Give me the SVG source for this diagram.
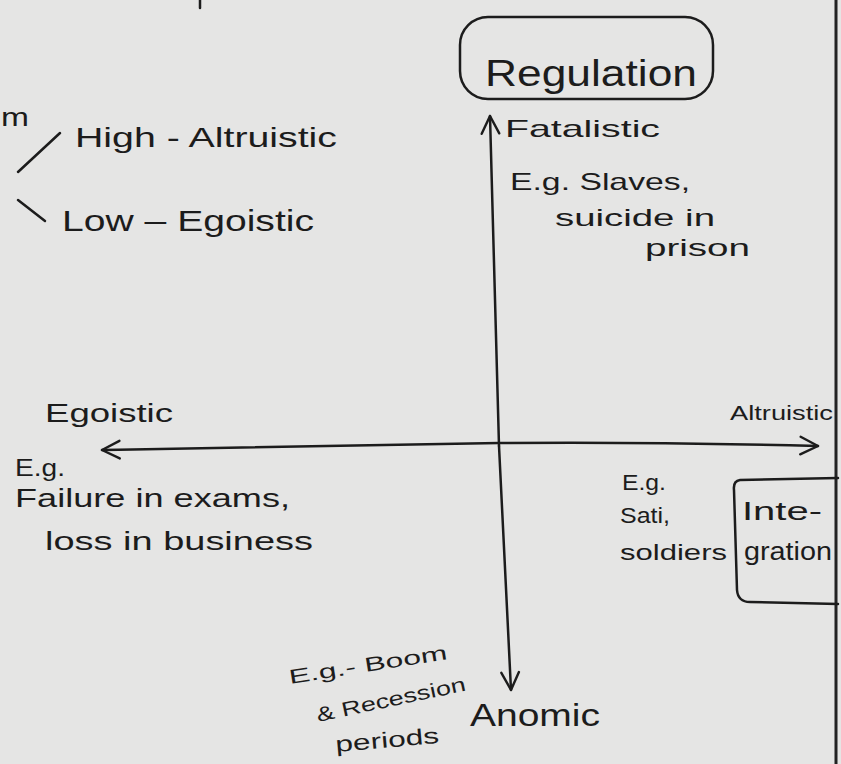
<svg xmlns="http://www.w3.org/2000/svg" width="841" height="764" viewBox="0 0 841 764">
<defs>
<style>
.t{font-family:"Liberation Sans","DejaVu Sans",sans-serif;fill:#1c1c1c}
.ln{stroke:#1c1c1c;stroke-width:2.5;fill:none;stroke-linecap:round;stroke-linejoin:round}
</style>
<marker id="ah" viewBox="0 0 20 20" refX="18" refY="10" markerWidth="22" markerHeight="22" markerUnits="userSpaceOnUse" orient="auto">
<path d="M2,2 L18,10 L2,18" fill="none" stroke="#1c1c1c" stroke-width="2.2" stroke-linecap="round" stroke-linejoin="round"/>
</marker>
</defs>
<rect width="841" height="764" fill="#e5e5e4"/>
<line x1="836" y1="0" x2="836" y2="764" stroke="#222" stroke-width="3"/>
<line x1="200" y1="0" x2="200" y2="8" class="ln"/>
<g id="connectors">
<path d="M499,446 L490,116" class="ln" marker-end="url(#ah)"/>
<path d="M499,446 L511,690" class="ln" marker-end="url(#ah)"/>
<path d="M499,443 C400,444 250,447 102,450" class="ln" marker-end="url(#ah)"/>
<path d="M499,443 C600,442 700,443 818,446" class="ln" marker-end="url(#ah)"/>
<path d="M18,172 L60,133" class="ln"/>
<path d="M18,200 L45,221" class="ln"/>
</g>
<g id="regulation">
<rect x="460" y="17" width="253" height="82" rx="28" class="ln"/>
<text x="485" y="86" class="t" font-size="36" textLength="212" lengthAdjust="spacingAndGlyphs">Regulation</text>
</g>
<g id="fatalistic">
<text x="505" y="137" class="t" font-size="24" textLength="155" lengthAdjust="spacingAndGlyphs">Fatalistic</text>
<text x="510" y="190" class="t" font-size="24" textLength="180" lengthAdjust="spacingAndGlyphs">E.g. Slaves,</text>
<text x="555" y="226" class="t" font-size="24" textLength="160" lengthAdjust="spacingAndGlyphs">suicide in</text>
<text x="645" y="256" class="t" font-size="24" textLength="105" lengthAdjust="spacingAndGlyphs">prison</text>
</g>
<g id="integration-levels">
<text x="1" y="126" class="t" font-size="26" textLength="28" lengthAdjust="spacingAndGlyphs">m</text>
<text x="75" y="147" class="t" font-size="28" textLength="262" lengthAdjust="spacingAndGlyphs">High - Altruistic</text>
<text x="62" y="231" class="t" font-size="30" textLength="252" lengthAdjust="spacingAndGlyphs">Low – Egoistic</text>
</g>
<g id="egoistic">
<text x="45" y="422" class="t" font-size="26" textLength="128" lengthAdjust="spacingAndGlyphs">Egoistic</text>
<text x="15" y="476" class="t" font-size="24" textLength="50" lengthAdjust="spacingAndGlyphs">E.g.</text>
<text x="15" y="507" class="t" font-size="26" textLength="275" lengthAdjust="spacingAndGlyphs">Failure in exams,</text>
<text x="45" y="550" class="t" font-size="26" textLength="268" lengthAdjust="spacingAndGlyphs">loss in business</text>
</g>
<g id="altruistic">
<text x="730" y="420" class="t" font-size="20" textLength="103" lengthAdjust="spacingAndGlyphs">Altruistic</text>
<text x="622" y="490" class="t" font-size="22" textLength="44" lengthAdjust="spacingAndGlyphs">E.g.</text>
<text x="620" y="523" class="t" font-size="22" textLength="50" lengthAdjust="spacingAndGlyphs">Sati,</text>
<text x="620" y="560" class="t" font-size="22" textLength="107" lengthAdjust="spacingAndGlyphs">soldiers</text>
</g>
<g id="integration">
<path d="M838,478 L740,480 Q733,481 734,490 L737,590 Q738,602 750,602 L838,604" class="ln"/>
<text x="742" y="520" class="t" font-size="26" textLength="80" lengthAdjust="spacingAndGlyphs">Inte-</text>
<text x="744" y="560" class="t" font-size="26" textLength="88" lengthAdjust="spacingAndGlyphs">gration</text>
</g>
<g id="anomic">
<text x="470" y="726" class="t" font-size="32" textLength="130" lengthAdjust="spacingAndGlyphs">Anomic</text>
<text x="290" y="684" class="t" font-size="20" textLength="160" lengthAdjust="spacingAndGlyphs" transform="rotate(-9 290 684)">E.g.- Boom</text>
<text x="318" y="722" class="t" font-size="20" textLength="152" lengthAdjust="spacingAndGlyphs" transform="rotate(-12 318 722)">&amp; Recession</text>
<text x="336" y="752" class="t" font-size="22" textLength="104" lengthAdjust="spacingAndGlyphs" transform="rotate(-5 336 752)">periods</text>
</g>
</svg>
